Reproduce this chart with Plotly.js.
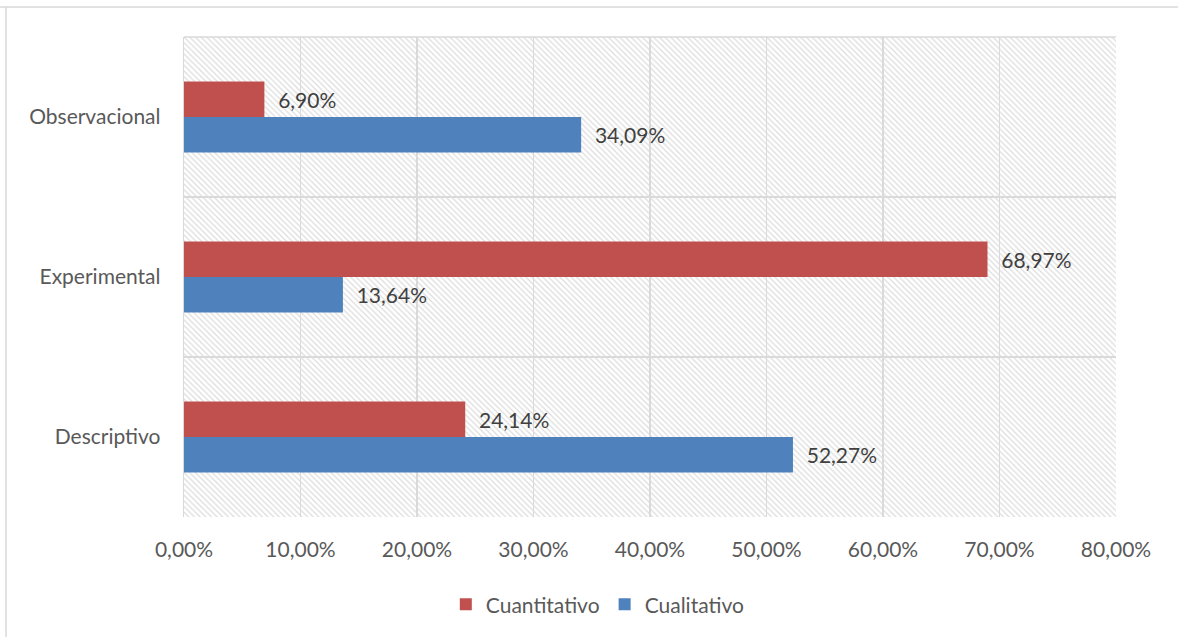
<!DOCTYPE html>
<html>
<head>
<meta charset="utf-8">
<script src="https://cdn.plot.ly/plotly-3.0.1.min.js"></script>
<style>html,body{margin:0;padding:0;background:#fff;}#chart{width:1178px;height:637px;}</style>
</head>
<body>
<div id="chart"></div>
<script>
var categories = ["Descriptivo", "Experimental", "Observacional"];
var cuantitativo = [0.2414, 0.6897, 0.0690];
var cualitativo = [0.5227, 0.1364, 0.3409];
var xTicks = [0, 0.1, 0.2, 0.3, 0.4, 0.5, 0.6, 0.7, 0.8];

var FONT = "Lato, 'Open Sans', sans-serif";
var PAD = "\u00a0\u00a0";

var hatch = {
  type: "bar", x: [1], y: [1], width: [1], orientation: "v",
  xaxis: "x", yaxis: "y", showlegend: false, hoverinfo: "skip",
  marker: {
    color: "rgba(0,0,0,0)", line: {width: 0},
    pattern: {shape: "\\", fgcolor: "#dcdcdc", bgcolor: "rgba(0,0,0,0)", size: 4, solidity: 0.3}
  }
};

var tCual = {
  type: "bar", orientation: "h", name: "Cualitativo",
  y: categories, x: cualitativo, xaxis: "x2", yaxis: "y2",
  marker: {color: "#4f81bd"},
  texttemplate: PAD + "%{x:.2%}", textposition: "outside", cliponaxis: false,
  textfont: {family: FONT, size: 21, color: "#404040"}, hoverinfo: "x+name"
};
var tCuan = {
  type: "bar", orientation: "h", name: "Cuantitativo",
  y: categories, x: cuantitativo, xaxis: "x2", yaxis: "y2",
  marker: {color: "#c0504d"},
  texttemplate: PAD + "%{x:.2%}", textposition: "outside", cliponaxis: false,
  textfont: {family: FONT, size: 21, color: "#404040"}, hoverinfo: "x+name"
};

var layout = {
  width: 1178, height: 637,
  margin: {l: 184, r: 62, t: 37, b: 120, pad: 0},
  paper_bgcolor: "#ffffff", plot_bgcolor: "#ffffff",
  separators: ",.",
  font: {family: FONT, size: 21, color: "#595959"},
  barmode: "group", bargap: 0.555, bargroupgap: 0,
  xaxis: {range: [0.5, 1.5], visible: false, fixedrange: true},
  yaxis: {range: [0, 1], visible: false, fixedrange: true},
  xaxis2: {
    overlaying: "x", anchor: "y2", range: [0, 0.8], tickvals: xTicks, tickformat: ".2%",
    showgrid: true, gridcolor: "#d9d9d9", gridwidth: 1.3, zeroline: false,
    showline: false, ticks: "", ticklabelstandoff: 18, tickfont: {size: 21, color: "#595959"}
  },
  yaxis2: {
    overlaying: "y", anchor: "x2", type: "category", categoryorder: "array", categoryarray: categories,
    tickson: "boundaries", showgrid: true, gridcolor: "#d9d9d9", gridwidth: 1.3,
    showline: true, linecolor: "#d9d9d9", linewidth: 1.3, ticks: "", ticklabelstandoff: 18,
    tickfont: {size: 21, color: "#595959"}
  },
  legend: {
    orientation: "h", x: 0.444, xanchor: "center", y: -0.14, yanchor: "top", xref: "paper",
    traceorder: "reversed", font: {size: 21, color: "#595959"}, itemwidth: 30
  },
  shapes: [
    {type: "line", xref: "paper", yref: "paper", x0: -184/932, x1: 1.1, y0: 1 + 30/480, y1: 1 + 30/480, line: {color: "#d9d9d9", width: 1.5}},
    {type: "line", xref: "paper", yref: "paper", x0: -178/932, x1: -178/932, y0: -1, y1: 1 + 30/480, line: {color: "#d9d9d9", width: 1.5}},
    {type: "line", xref: "paper", yref: "paper", x0: 0, x1: 1, y0: 1, y1: 1, line: {color: "#d9d9d9", width: 1.3}}
  ]
};

Plotly.newPlot("chart", [hatch, tCual, tCuan], layout, {displayModeBar: false, staticPlot: true});
</script>
</body>
</html>
